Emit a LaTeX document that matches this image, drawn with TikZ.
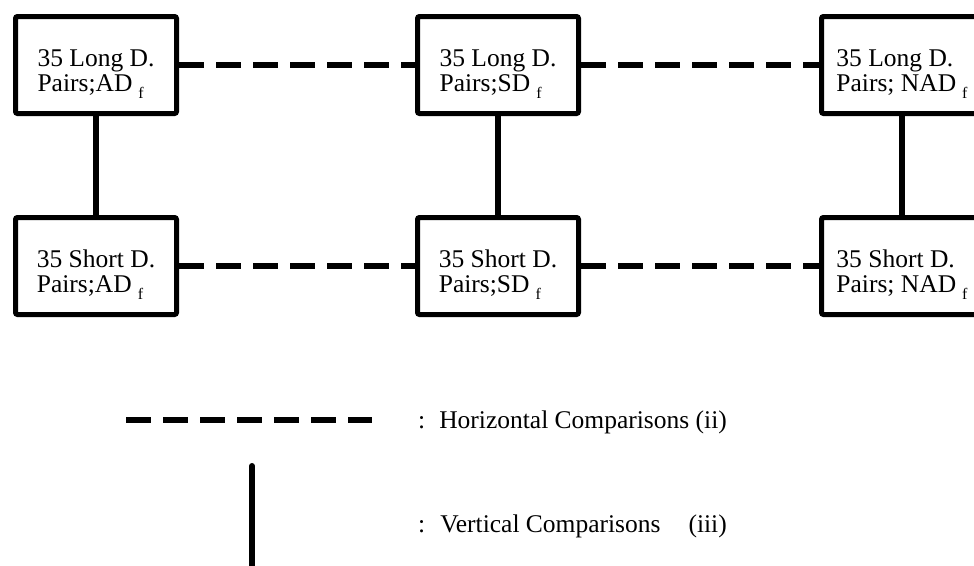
\documentclass[tikz,border=0pt]{standalone}
\usepackage{fontspec}
\setmainfont{Liberation Serif}
\usetikzlibrary{positioning}
\newcommand{\subf}{\hspace{6pt}\raisebox{-0.3em}{\fontsize{16}{16}\selectfont f}}
\newcommand{\pairlines}[2]{\rule{0pt}{35pt}#1\\#2\subf}
\tikzset{
  pairbox/.style={draw, line width=5pt, rounded corners=2pt, minimum width=161pt,
    minimum height=97pt, align=left, inner sep=0pt, font=\fontsize{25.5}{25}\selectfont},
  hcmp/.style={line width=6pt, dash pattern=on 25pt off 12pt},
  vcmp/.style={line width=6pt},
  legtext/.style={anchor=west, inner sep=0pt, font=\fontsize{25.5}{26}\selectfont}
}
\begin{document}
\begin{tikzpicture}[x=1pt,y=-1pt]
\useasboundingbox (0,0) rectangle (974,565);
\node[pairbox] (LA) at (96,65) {\pairlines{35 Long D.}{Pairs;AD}};
\node[pairbox] (LS) at (498,65) {\pairlines{35 Long D.}{Pairs;SD}};
\node[pairbox] (LN) at (902,65) {\pairlines{35 Long D.}{Pairs; NAD}};
\node[pairbox] (SA) at (96,266) {\pairlines{35 Short D.}{Pairs;AD}};
\node[pairbox] (SS) at (498,266) {\pairlines{35 Short D.}{Pairs;SD}};
\node[pairbox] (SN) at (902,266) {\pairlines{35 Short D.}{Pairs; NAD}};
\draw[hcmp] (LA) -- (LS);
\draw[hcmp] (LS) -- (LN);
\draw[hcmp] (SA) -- (SS);
\draw[hcmp] (SS) -- (SN);
\draw[vcmp] (LA) -- (SA);
\draw[vcmp] (LS) -- (SS);
\draw[vcmp] (LN) -- (SN);
\coordinate (h0) at (126,420);
\coordinate (h1) at (372,420);
\draw[hcmp] (h0) -- (h1);
\coordinate (v0) at (252,466);
\coordinate (v1) at (252,570);
\draw[vcmp, line cap=round] (v0) -- (v1);
\node[legtext] (hl) at (418,422) {:\hspace{14pt}Horizontal Comparisons (ii)};
\node[legtext] (vl) at (418,526) {:\hspace{15pt}Vertical Comparisons\hspace{28pt}(iii)};
\end{tikzpicture}
\end{document}
